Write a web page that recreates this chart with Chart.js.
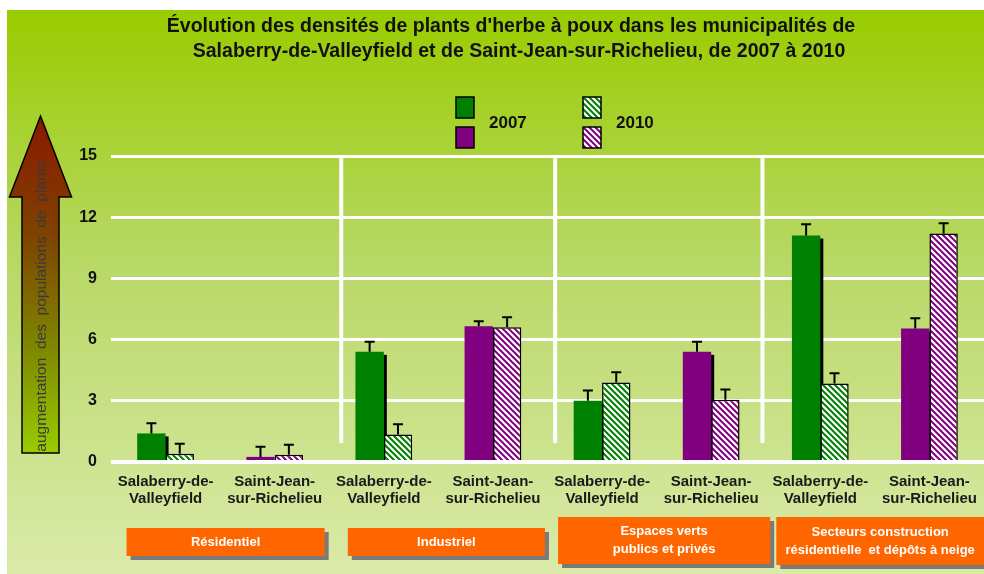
<!DOCTYPE html>
<html>
<head>
<meta charset="utf-8">
<title>Herbe à poux</title>
<script src="https://cdn.jsdelivr.net/npm/chart.js"></script>
<style>
  body { margin: 0; background: #fff; }
  canvas { display: block; }
</style>
</head>
<body>
<canvas id="chart" width="984" height="574"></canvas>
<script>
const categories = [
  ["Salaberry-de-", "Valleyfield"],
  ["Saint-Jean-", "sur-Richelieu"],
  ["Salaberry-de-", "Valleyfield"],
  ["Saint-Jean-", "sur-Richelieu"],
  ["Salaberry-de-", "Valleyfield"],
  ["Saint-Jean-", "sur-Richelieu"],
  ["Salaberry-de-", "Valleyfield"],
  ["Saint-Jean-", "sur-Richelieu"],
];
const sectors = [
  ["Résidentiel"],
  ["Industriel"],
  ["Espaces verts", "publics et privés"],
  ["Secteurs construction", "résidentielle  et dépôts à neige"],
];
const years = ["2007", "2010"];
const values2007 = [1.4, 0.25, 5.4, 6.65, 3.0, 5.4, 11.1, 6.55];
const values2010 = [0.4, 0.35, 1.35, 6.6, 3.9, 3.05, 3.85, 11.2];
const errors2007 = [0.5, 0.5, 0.5, 0.25, 0.5, 0.5, 0.55, 0.5];
const errors2010 = [0.5, 0.5, 0.5, 0.5, 0.5, 0.5, 0.5, 0.5];
const yMax = 15;
const yStep = 3;

const FONT = "Arial, 'Liberation Sans', sans-serif";
const GREEN = "#008000";
const PURPLE = "#800080";
const ORANGE = "#ff6600";

const cityColor = (i) => (i % 2 === 0 ? GREEN : PURPLE);

const ctx = document.getElementById("chart").getContext("2d");

const makeHatch = (color) => {
  const s = 6;
  const c = document.createElement("canvas");
  c.width = s;
  c.height = s;
  const g = c.getContext("2d");
  g.fillStyle = "#fff";
  g.fillRect(0, 0, s, s);
  g.strokeStyle = color;
  g.lineWidth = 2;
  g.beginPath();
  for (let k = -1; k <= 1; k++) {
    g.moveTo(k * s - 1, -1);
    g.lineTo(k * s + s + 1, s + 1);
  }
  g.stroke();
  return ctx.createPattern(c, "repeat");
};
const hatch = { [GREEN]: makeHatch(GREEN), [PURPLE]: makeHatch(PURPLE) };

// background, white margin on top and left
const background = {
  id: "background",
  beforeDraw(chart) {
    const c = chart.ctx;
    c.save();
    c.fillStyle = "#fff";
    c.fillRect(0, 0, chart.width, chart.height);
    const grad = c.createLinearGradient(0, 10, 0, chart.height);
    grad.addColorStop(0, "#99cc00");
    grad.addColorStop(0.45, "#b8d866");
    grad.addColorStop(1, "#dbeaa9");
    c.fillStyle = grad;
    c.fillRect(7, 10, chart.width - 7, chart.height - 10);
    c.restore();
  },
};

// white vertical lines between the sectors
const separatorsAt = [1.61, 3.57, 5.47];
const separators = {
  id: "separators",
  beforeDatasetsDraw(chart) {
    const c = chart.ctx;
    const x = chart.scales.x;
    const y = chart.scales.y;
    c.save();
    c.strokeStyle = "#fff";
    c.lineWidth = 4;
    separatorsAt.forEach((v) => {
      const i = Math.floor(v);
      const px = x.getPixelForValue(i) + (x.getPixelForValue(i + 1) - x.getPixelForValue(i)) * (v - i);
      c.beginPath();
      c.moveTo(px, y.getPixelForValue(yMax) + 1);
      c.lineTo(px, y.getPixelForValue(0) - 19);
      c.stroke();
    });
    // black shadow on the right of the solid bars
    c.fillStyle = "#000";
    chart.getDatasetMeta(0).data.forEach((bar) => {
      c.fillRect(bar.x + bar.width / 2 - 0.5, bar.y + 3, 3.5, bar.base - bar.y - 3);
    });
    c.restore();
  },
};

const errorBars = {
  id: "errorBars",
  afterDatasetsDraw(chart) {
    const c = chart.ctx;
    const y = chart.scales.y;
    const errs = [errors2007, errors2010];
    c.save();
    c.strokeStyle = "#000";
    c.lineWidth = 2;
    chart.data.datasets.forEach((ds, d) => {
      chart.getDatasetMeta(d).data.forEach((bar, i) => {
        const top = y.getPixelForValue(ds.data[i] + errs[d][i]);
        c.beginPath();
        c.moveTo(bar.x, bar.y);
        c.lineTo(bar.x, top);
        c.moveTo(bar.x - 5, top);
        c.lineTo(bar.x + 5, top);
        c.stroke();
      });
    });
    c.restore();
  },
};

const decorations = {
  id: "decorations",
  afterDraw(chart) {
    const c = chart.ctx;
    const x = chart.scales.x;
    c.save();

    // title
    c.fillStyle = "#111";
    c.font = `bold 19.5px ${FONT}`;
    c.textAlign = "center";
    c.textBaseline = "middle";
    c.fillText("Évolution des densités de plants d'herbe à poux dans les municipalités de", 511, 27);
    c.fillText("Salaberry-de-Valleyfield et de Saint-Jean-sur-Richelieu, de 2007 à 2010", 519, 52);

    // legend
    const box = (bx, by, fill) => {
      c.fillStyle = fill;
      c.fillRect(bx, by, 18, 21);
      c.strokeStyle = "#000";
      c.lineWidth = 1.5;
      c.strokeRect(bx, by, 18, 21);
    };
    box(456, 97, GREEN);
    box(456, 127, PURPLE);
    box(583, 97, hatch[GREEN]);
    box(583, 127, hatch[PURPLE]);
    c.fillStyle = "#111";
    c.font = `bold 17px ${FONT}`;
    c.textAlign = "left";
    c.fillText(years[0], 489, 123);
    c.fillText(years[1], 616, 123);

    // arrow
    const cx = 40.5;
    const grad = c.createLinearGradient(0, 116, 0, 453);
    grad.addColorStop(0, "#8b1800");
    grad.addColorStop(0.35, "#7e4200");
    grad.addColorStop(0.7, "#7f8a00");
    grad.addColorStop(1, "#99cc00");
    c.beginPath();
    c.moveTo(cx, 116);
    c.lineTo(cx + 31, 197);
    c.lineTo(cx + 18.5, 197);
    c.lineTo(cx + 18.5, 453);
    c.lineTo(cx - 18.5, 453);
    c.lineTo(cx - 18.5, 197);
    c.lineTo(cx - 31, 197);
    c.closePath();
    c.fillStyle = grad;
    c.fill();
    c.strokeStyle = "#000";
    c.lineWidth = 1.5;
    c.stroke();
    c.save();
    c.translate(cx, 306);
    c.rotate(-Math.PI / 2);
    c.fillStyle = "#3a3a3a";
    c.font = `15.5px ${FONT}`;
    c.textAlign = "center";
    c.textBaseline = "middle";
    c.fillText("augmentation  des  populations  de  plants", 0, 1);
    c.restore();

    // sector boxes under the axis
    const boxLayout = [
      { dl: -39, dr: 50, top: 528, bottom: 556 },
      { dl: -36, dr: 52, top: 528, bottom: 556 },
      { dl: -44, dr: 59, top: 517, bottom: 564 },
      { dl: -44, dr: 60, top: 517, bottom: 565 },
    ];
    sectors.forEach((lines, s) => {
      const b = boxLayout[s];
      const left = x.getPixelForValue(2 * s) + b.dl;
      const right = Math.min(x.getPixelForValue(2 * s + 1) + b.dr, chart.width);
      c.fillStyle = "#7a7a7a";
      c.fillRect(left + 4, b.top + 4, right - left, b.bottom - b.top);
      c.fillStyle = ORANGE;
      c.fillRect(left, b.top, right - left, b.bottom - b.top);
      c.fillStyle = "#fff";
      c.font = `bold 13px ${FONT}`;
      c.textAlign = "center";
      c.textBaseline = "middle";
      const mid = (b.top + b.bottom) / 2;
      lines.forEach((t, k) => {
        c.fillText(t, (left + right) / 2, mid + (k - (lines.length - 1) / 2) * 18);
      });
    });

    c.restore();
  },
};

new Chart(ctx, {
  type: "bar",
  data: {
    labels: categories,
    datasets: [
      {
        label: years[0],
        data: values2007,
        backgroundColor: values2007.map((v, i) => cityColor(i)),
        borderWidth: 0,
      },
      {
        label: years[1],
        data: values2010,
        backgroundColor: values2010.map((v, i) => hatch[cityColor(i)]),
        borderColor: "#000",
        borderWidth: 1.5,
      },
    ],
  },
  options: {
    responsive: false,
    animation: false,
    devicePixelRatio: 1,
    layout: { padding: { top: 156, right: 0, bottom: 0, left: 0 } },
    datasets: { bar: { categoryPercentage: 0.52, barPercentage: 1.0 } },
    plugins: {
      legend: { display: false },
      title: { display: false },
      tooltip: { enabled: false },
    },
    scales: {
      x: {
        grid: { display: false, drawTicks: false },
        border: { display: false },
        ticks: {
          font: { family: FONT, weight: "bold", size: 15, lineHeight: 1.15 },
          color: "#1a1a1a",
          padding: 11,
          maxRotation: 0,
          autoSkip: false,
        },
        afterFit: (s) => {
          s.height = 112;
          s.paddingLeft = 0;
          s.paddingRight = 0;
        },
      },
      y: {
        min: 0,
        max: yMax,
        ticks: {
          stepSize: yStep,
          font: { family: FONT, weight: "bold", size: 16 },
          color: "#111",
          padding: 14,
        },
        grid: {
          color: "#fff",
          lineWidth: (c) => (c.tick && c.tick.value === 0 ? 4 : 3),
          drawTicks: false,
        },
        border: { display: false },
        afterFit: (s) => {
          s.width = 111;
          s.paddingTop = 0;
          s.paddingBottom = 0;
        },
      },
    },
  },
  plugins: [background, separators, errorBars, decorations],
});
</script>
</body>
</html>
